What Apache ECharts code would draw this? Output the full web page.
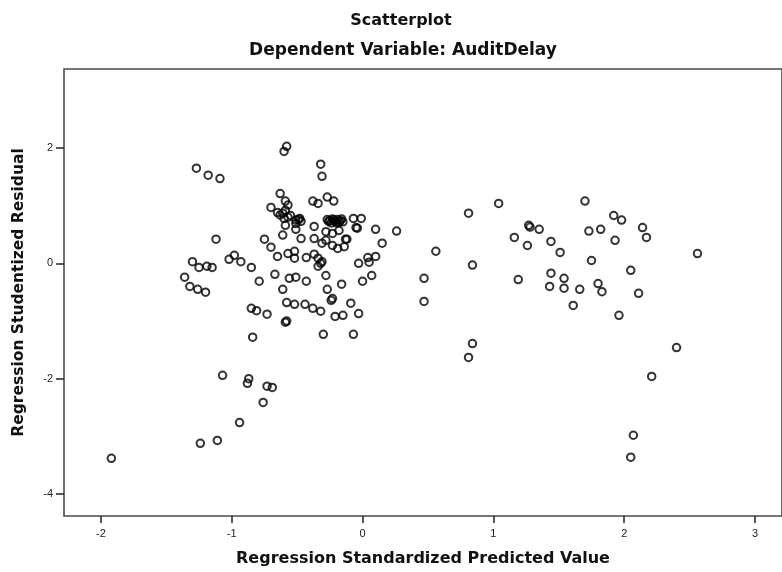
<!DOCTYPE html>
<html>
<head>
<meta charset="utf-8">
<title>Scatterplot</title>
<script src="https://cdn.jsdelivr.net/npm/echarts@6/dist/echarts.min.js"></script>
<style>
  html, body { margin: 0; padding: 0; background: #fff; }
  #chart { width: 782px; height: 572px; }
</style>
</head>
<body>
<div id="chart"></div>
<script>
// tick labels
const xTicks = [-2, -1, 0, 1, 2, 3];
const yTicks = [-4, -2, 0, 2];

// predicted value (x) / studentized residual (y)
const lowerLeft = [
    [-1.92, -3.38], [-1.24, -3.12], [-1.11, -3.07], [-0.94, -2.76], [-0.76, -2.41],
    [-0.73, -2.13], [-0.69, -2.15], [-0.87, -2.0], [-0.88, -2.08], [-1.07, -1.94],
    [-0.84, -1.28], [-0.59, -1.02], [-0.30, -1.23], [-0.07, -1.23]
];

const upperLeft = [
    [-0.58, 2.03], [-0.60, 1.94], [-1.27, 1.65], [-1.18, 1.53], [-1.09, 1.47],
    [-0.32, 1.72], [-0.31, 1.51], [-0.63, 1.21], [-0.59, 1.08], [-0.57, 1.01],
    [-0.70, 0.97], [-0.38, 1.08], [-0.34, 1.04], [-0.27, 1.15], [-0.22, 1.08]
];

const denseCluster = [
    [-0.65, 0.88], [-0.61, 0.87], [-0.57, 0.80], [-0.60, 0.78], [-0.63, 0.84],
    [-0.55, 0.83], [-0.48, 0.78], [-0.47, 0.73], [-0.51, 0.75], [-0.49, 0.76],
    [-0.51, 0.69], [-0.59, 0.66], [-0.37, 0.64], [-0.51, 0.59], [-0.61, 0.49],
    [-0.47, 0.43], [-0.59, 0.92],
    [-0.27, 0.76], [-0.25, 0.74], [-0.23, 0.77], [-0.21, 0.73], [-0.19, 0.76],
    [-0.17, 0.74], [-0.15, 0.72], [-0.20, 0.70], [-0.24, 0.70], [-0.22, 0.75],
    [-0.18, 0.71], [-0.26, 0.73], [-0.16, 0.77]
];

const center = [
    [-0.07, 0.78], [-0.01, 0.78], [-0.04, 0.61], [0.10, 0.59], [0.26, 0.56],
    [0.15, 0.35], [-0.13, 0.42], [-0.23, 0.31], [-0.14, 0.29], [-0.19, 0.26],
    [-0.28, 0.55], [-0.23, 0.52], [-0.18, 0.57], [-0.05, 0.62], [-0.37, 0.43],
    [-0.31, 0.35], [-0.28, 0.40], [-0.12, 0.42],
    [0.10, 0.12], [0.04, 0.10], [0.05, 0.02], [-0.03, 0.0], [0.07, -0.21],
    [0.0, -0.31], [-0.34, 0.09], [-0.32, 0.0], [-0.31, 0.03], [-0.34, -0.05],
    [-0.43, 0.10], [-0.37, 0.16], [-0.57, 0.17], [-0.52, 0.21], [-0.52, 0.09],
    [-0.65, 0.12], [-0.70, 0.28], [-0.75, 0.42], [-1.12, 0.42], [-1.30, 0.03],
    [-1.25, -0.07], [-1.19, -0.05], [-1.15, -0.07], [-1.02, 0.07], [-0.98, 0.14],
    [-0.93, 0.03], [-0.85, -0.07], [-1.36, -0.24], [-1.32, -0.40], [-1.26, -0.45],
    [-1.20, -0.50]
];

const negative = [
    [-0.79, -0.31], [-0.67, -0.19], [-0.61, -0.45], [-0.56, -0.26], [-0.51, -0.24],
    [-0.43, -0.31], [-0.28, -0.21], [-0.27, -0.45], [-0.16, -0.36], [-0.24, -0.64],
    [-0.09, -0.69], [-0.23, -0.61], [-0.58, -0.68], [-0.52, -0.71], [-0.44, -0.71],
    [-0.38, -0.78], [-0.32, -0.83], [-0.85, -0.78], [-0.81, -0.82], [-0.73, -0.88],
    [-0.58, -1.0], [-0.21, -0.92], [-0.15, -0.90], [-0.03, -0.87]
];

const middle = [
    [0.56, 0.21], [0.81, 0.87], [0.84, -0.03], [0.47, -0.26], [0.47, -0.66],
    [0.84, -1.39], [0.81, -1.63]
];

const rightGroup = [
    [1.04, 1.04], [1.70, 1.08], [1.92, 0.83], [1.98, 0.75], [1.27, 0.66],
    [1.28, 0.63], [1.35, 0.59], [1.73, 0.56], [1.82, 0.59], [2.14, 0.62],
    [2.17, 0.45], [1.16, 0.45], [1.26, 0.31], [1.44, 0.38], [1.93, 0.40],
    [1.51, 0.19], [2.56, 0.17], [1.75, 0.05], [2.05, -0.12], [1.19, -0.28],
    [1.44, -0.17], [1.54, -0.26], [1.43, -0.40], [1.54, -0.43], [1.66, -0.45],
    [1.80, -0.35], [1.83, -0.49], [2.11, -0.52], [1.61, -0.73], [1.96, -0.90],
    [2.40, -1.46], [2.21, -1.96], [2.07, -2.98], [2.05, -3.36]
];

const points = [].concat(lowerLeft, upperLeft, denseCluster, center, negative, middle, rightGroup);

const TITLE_FONT = '"DejaVu Sans", Arial, sans-serif';
const TICK_FONT = '"Liberation Sans", Arial, sans-serif';

function initScatter() {
    const chartDom = document.getElementById('chart');
    const chart = echarts.init(chartDom, null, { renderer: 'canvas' });

    const titleStyle = { fontFamily: TITLE_FONT, fontSize: 16, fontWeight: 'bold', color: '#111' };

    const option = {
        animation: false,
        backgroundColor: '#fff',
        title: [
            {
                text: 'Scatterplot',
                left: 396, top: 8, textAlign: 'center',
                textStyle: titleStyle
            },
            {
                text: 'Dependent Variable: AuditDelay',
                left: 398, top: 37, textAlign: 'center',
                textStyle: Object.assign({}, titleStyle, { fontSize: 17 })
            }
        ],
        grid: {
            left: 64, top: 69, right: -2, bottom: 56,
            show: true,
            borderColor: '#4a4a4a',
            borderWidth: 1.6,
            backgroundColor: 'transparent'
        },
        xAxis: {
            type: 'value',
            min: -2.282, max: 3.206,
            name: 'Regression Standardized Predicted Value',
            nameLocation: 'middle',
            nameGap: 35,
            nameTextStyle: titleStyle,
            axisLine: { show: false, onZero: false },
            splitLine: { show: false },
            axisTick: {
                show: true, length: 7, customValues: xTicks,
                lineStyle: { color: '#222', width: 1.5 }
            },
            axisLabel: {
                customValues: xTicks, margin: 12,
                fontFamily: TICK_FONT, fontSize: 11, color: '#222'
            }
        },
        yAxis: {
            type: 'value',
            min: -4.38, max: 3.37,
            name: 'Regression Studentized Residual',
            nameLocation: 'middle',
            nameGap: 37,
            nameTextStyle: Object.assign({}, titleStyle, { fontSize: 15.5 }),
            axisLine: { show: false, onZero: false },
            splitLine: { show: false },
            axisTick: {
                show: true, length: 8, customValues: yTicks,
                lineStyle: { color: '#222', width: 1.5 }
            },
            axisLabel: {
                customValues: yTicks, margin: 11,
                fontFamily: TICK_FONT, fontSize: 11, color: '#222'
            }
        },
        series: [{
            type: 'scatter',
            data: points,
            symbol: 'circle',
            symbolSize: 7.5,
            itemStyle: {
                color: 'rgba(255,255,255,0)',
                borderColor: '#000',
                borderWidth: 2
            }
        }]
    };

    chart.setOption(option);
    window.addEventListener('resize', chart.resize);
}

document.addEventListener('DOMContentLoaded', function() {
    if (typeof echarts !== 'undefined') {
        initScatter();
    }
});
</script>
</body>
</html>
